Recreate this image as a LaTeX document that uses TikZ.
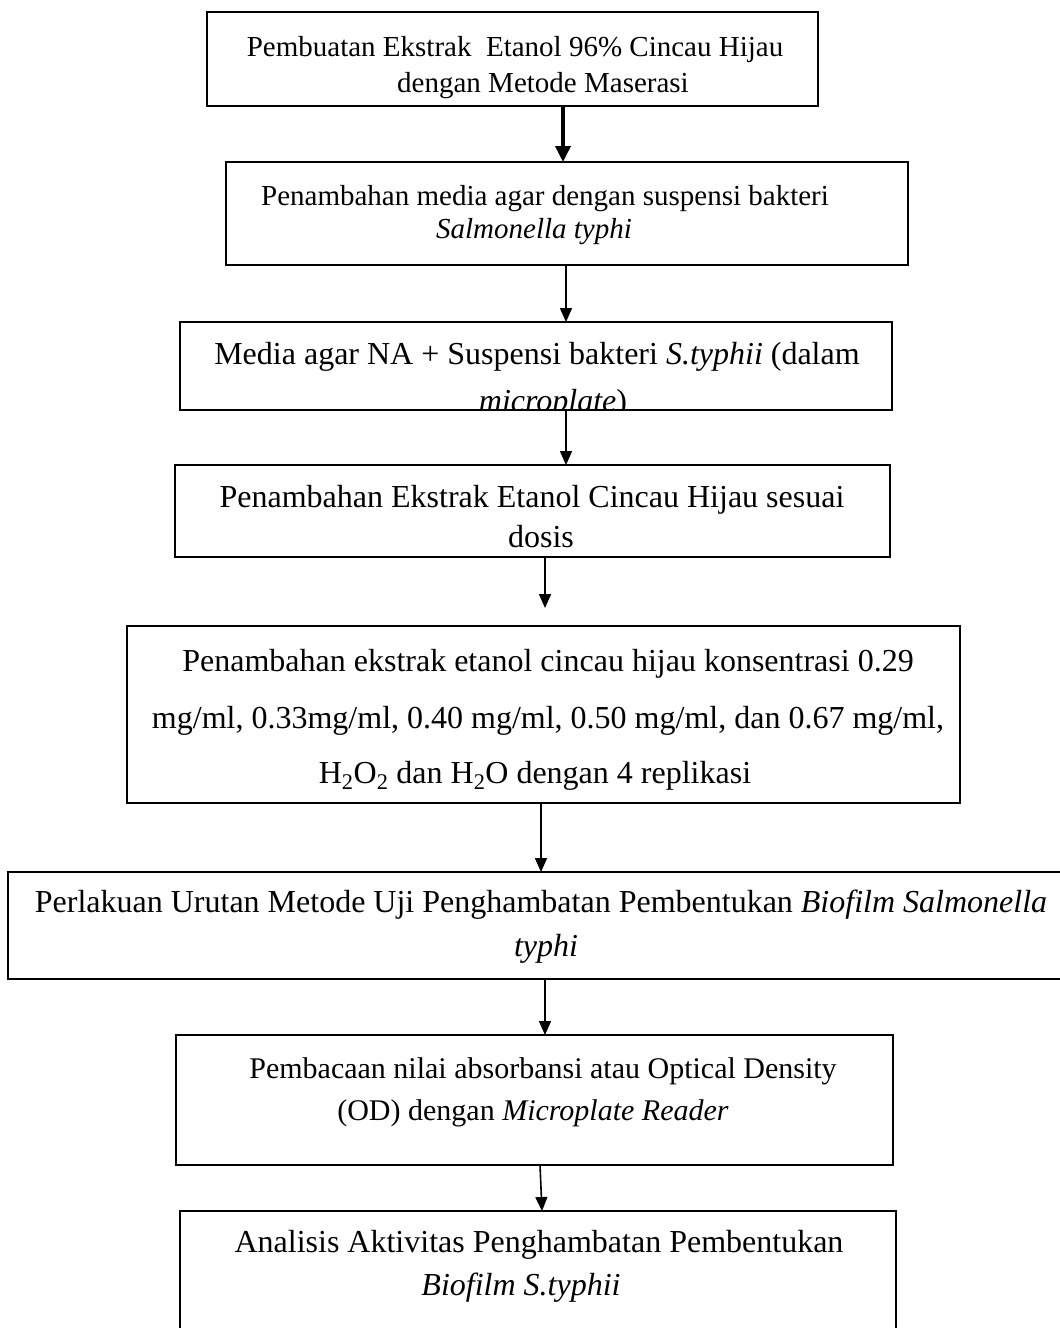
\documentclass[tikz,border=0pt]{standalone}
\usepackage{fontspec}
\setmainfont{Liberation Serif}
\usetikzlibrary{arrows.meta}
\begin{document}
\begin{tikzpicture}[x=1pt,y=-1pt,
  box/.style={draw=black,line width=1.6pt,inner sep=0pt,outer sep=0pt,fill=none},
  txt/.style={anchor=base,inner sep=0pt,outer sep=0pt},
  arr/.style={line width=1.6pt,-{Triangle[length=14pt,width=12pt]}},
  arrthick/.style={line width=3.6pt,-{Triangle[length=16pt,width=15pt]}}]
\useasboundingbox (0,0) rectangle (1060,1328);
\fill[white] (0,0) rectangle (1060,1328);
% boxes
\node[box,minimum width=611pt,minimum height=94pt] (b1) at (512.5,59) {};
\node[box,minimum width=682pt,minimum height=103pt] (b2) at (567,213.5) {};
\node[box,minimum width=712pt,minimum height=88pt] (b3) at (536,366) {};
\node[box,minimum width=715pt,minimum height=92pt] (b4) at (532.5,511) {};
\node[box,minimum width=833pt,minimum height=177pt] (b5) at (543.5,714.5) {};
\node[box,minimum width=1067pt,minimum height=107pt] (b6) at (541.5,925.5) {};
\node[box,minimum width=717pt,minimum height=130pt] (b7) at (534.5,1100) {};
\node[box,minimum width=716pt,minimum height=134pt] (b8) at (538,1278) {};
% texts
\begin{scope}[font=\fontsize{29}{35}\selectfont]
\node[txt] (t1a) at (515,56) {Pembuatan Ekstrak \ Etanol 96\% Cincau Hijau};
\node[txt] (t1b) at (543,92) {dengan Metode Maserasi};
\node[txt] (t2a) at (545,205) {Penambahan media agar dengan suspensi bakteri};
\node[txt] (t2b) at (534,238) {\itshape Salmonella typhi};
\end{scope}
\begin{scope}
\clip (181,323) rectangle (891,409);
\node[txt,font=\fontsize{32}{38}\selectfont] (t3a) at (537,364) {Media agar NA + Suspensi bakteri \textit{S.typhii} (dalam};
\node[txt,font=\fontsize{32}{38}\selectfont] (t3b) at (553,411) {\textit{microplate})};
\end{scope}
\begin{scope}[font=\fontsize{32}{38}\selectfont]
\node[txt] (t4a) at (532,507) {Penambahan Ekstrak Etanol Cincau Hijau sesuai};
\node[txt] (t4b) at (541,547) {dosis};
\node[txt] (t5a) at (548,671) {Penambahan ekstrak etanol cincau hijau konsentrasi 0.29};
\node[txt] (t5b) at (548,728) {mg/ml, 0.33mg/ml, 0.40 mg/ml, 0.50 mg/ml, dan 0.67 mg/ml,};
\node[txt] (t5c) at (535,783) {H\textsubscript{2}O\textsubscript{2} dan H\textsubscript{2}O dengan 4 replikasi};
\node[txt] (t6a) at (541,912) {Perlakuan Urutan Metode Uji Penghambatan Pembentukan \textit{Biofilm Salmonella}};
\node[txt] (t6b) at (546,956) {\itshape typhi};
\node[txt] (t8a) at (539,1252) {Analisis Aktivitas Penghambatan Pembentukan};
\node[txt] (t8b) at (521,1295) {\itshape Biofilm S.typhii};
\end{scope}
\begin{scope}[font=\fontsize{30}{36}\selectfont]
\node[txt] (t7a) at (543,1078) {Pembacaan nilai absorbansi atau Optical Density};
\node[txt] (t7b) at (533,1120) {(OD) dengan \textit{Microplate Reader}};
\end{scope}
% arrows
\draw[arrthick] ([xshift=50.5pt]b1.south) -- ([xshift=-4pt]b2.north);
\draw[arr] ([xshift=-1pt]b2.south) -- ([xshift=30pt]b3.north);
\draw[arr] ([xshift=30pt]b3.south) -- ([xshift=33.5pt]b4.north);
\draw[arr] ([xshift=12.5pt]b4.south) -- ([xshift=1.5pt,yshift=18pt]b5.north);
\draw[arr] ([xshift=-2.5pt]b5.south) -- ([xshift=-0.5pt]b6.north);
\draw[arr] ([xshift=3.5pt]b6.south) -- ([xshift=10.5pt]b7.north);
\draw[arr] ([xshift=5.5pt]b7.south) -- ([xshift=4pt]b8.north);
\end{tikzpicture}
\end{document}
